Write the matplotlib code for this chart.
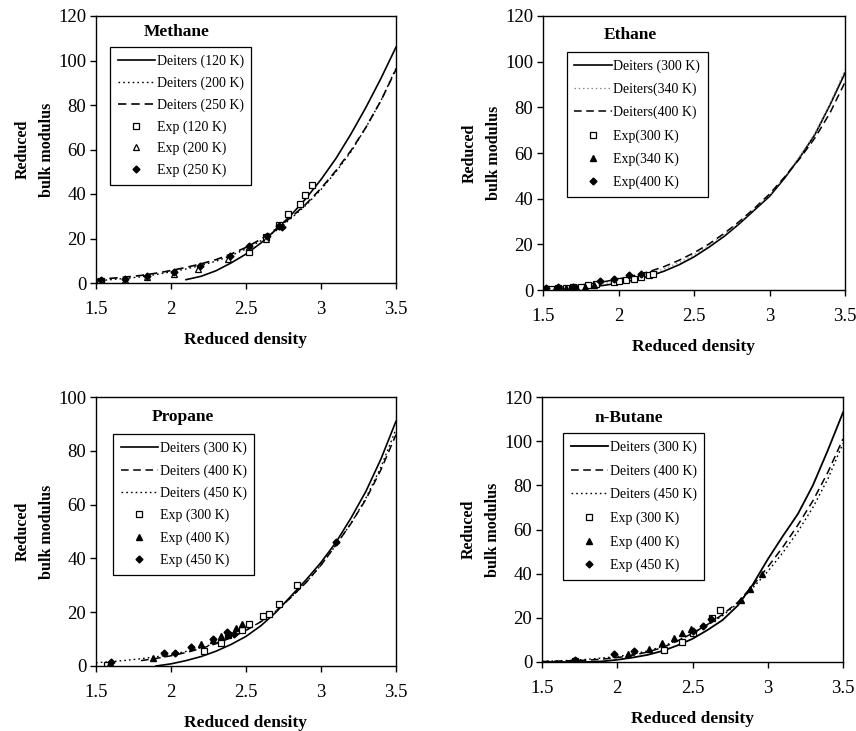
import numpy as np
import matplotlib
matplotlib.use('Agg')
import matplotlib.pyplot as plt

plt.rcParams['font.family'] = ['Liberation Serif', 'DejaVu Serif']

# ---------------- Methane ----------------
me_x1 = [2.1, 2.2, 2.3, 2.4, 2.5, 2.6, 2.7, 2.8, 2.9, 3.0, 3.1, 3.2, 3.3, 3.4, 3.5]
me_y1 = [1.5, 3, 5.5, 9, 13, 18, 24, 30.5, 38, 46.5, 56, 67, 79, 92, 106]
me_x2 = [1.5, 1.6, 1.7, 1.8, 1.9, 2.0, 2.1, 2.2, 2.3, 2.4, 2.5, 2.6, 2.7, 2.8, 2.9, 3.0, 3.1, 3.2, 3.3, 3.4, 3.5]
me_y2 = [1.0, 1.5, 2.1, 2.8, 3.8, 5.0, 6.3, 7.9, 9.8, 12.3, 15.3, 19, 23.5, 29, 35, 42, 50, 59, 70, 82, 96.5]
me_x3 = me_x2
me_y3 = [1.6, 2.1, 2.7, 3.4, 4.4, 5.6, 7.0, 8.6, 10.5, 13, 16, 19.7, 24.2, 29.5, 35.5, 42.5, 50.5, 59.5, 70, 82, 96]
me_ex1 = [1.53, 2.52, 2.63, 2.72, 2.78, 2.86, 2.89, 2.94]
me_ey1 = [1.0, 14, 20.5, 26, 31, 35.5, 39.5, 44]
me_ex2 = [1.52, 1.69, 1.84, 2.02, 2.18, 2.38, 2.52, 2.63, 2.72]
me_ey2 = [0.8, 1.2, 2.5, 4, 6.5, 11, 16, 20, 25.5]
me_ex3 = [1.53, 1.69, 1.84, 2.02, 2.19, 2.39, 2.52, 2.64, 2.72, 2.74]
me_ey3 = [1.3, 2.0, 3.2, 4.8, 7.5, 12, 16.5, 21, 25.5, 25]

# ---------------- Ethane ----------------
et_x = [1.5, 1.6, 1.7, 1.8, 1.9, 2.0, 2.1, 2.2, 2.3, 2.4, 2.5, 2.6, 2.7, 2.8, 2.9, 3.0, 3.1, 3.2, 3.3, 3.4, 3.5]
et_y1 = [0.2, 0.4, 0.8, 1.3, 2, 3, 4.3, 6, 8.2, 11, 14.5, 18.8, 23.5, 29, 35, 41, 49, 58, 68, 81, 95]
et_y2 = [0.5, 0.8, 1.3, 2.0, 2.8, 3.9, 5.3, 7.0, 9.2, 12, 15.4, 19.5, 24.2, 29.5, 35.5, 41.5, 49.5, 58.5, 68.5, 81.5, 96.5]
et_y3 = [0.8, 1.2, 1.8, 2.6, 3.6, 4.8, 6.3, 8, 10.2, 13, 16.3, 20.2, 24.8, 30, 35.8, 42, 49.5, 57.5, 66.5, 77.5, 91]
et_ex1 = [1.52, 1.55, 1.6, 1.65, 1.7, 1.75, 1.8, 1.85, 1.97, 2.0, 2.05, 2.1, 2.15, 2.2, 2.23]
et_ey1 = [0.5, 0.6, 0.8, 1.0, 1.2, 1.5, 2.0, 2.5, 3.5, 4.0, 4.5, 5.0, 5.5, 6.5, 7.0]
et_ex2 = [1.52, 1.58, 1.65, 1.72, 1.78, 1.84]
et_ey2 = [0.3, 0.5, 0.8, 1.1, 1.5, 2.0]
et_ex3 = [1.52, 1.6, 1.7, 1.88, 1.97, 2.07, 2.15]
et_ey3 = [0.8, 1.2, 1.5, 4.0, 5.0, 6.5, 7.0]

# ---------------- Propane ----------------
pr_x1 = [1.9, 2.0, 2.1, 2.2, 2.3, 2.4, 2.5, 2.6, 2.7, 2.8, 2.9, 3.0, 3.1, 3.2, 3.3, 3.4, 3.5]
pr_y1 = [0, 0.8, 2, 3.5, 5.5, 8, 11, 15, 20, 26, 32, 38.5, 46, 55, 65, 77, 91]
pr_x2 = [1.8, 1.9, 2.0, 2.1, 2.2, 2.3, 2.4, 2.5, 2.6, 2.7, 2.8, 2.9, 3.0, 3.1, 3.2, 3.3, 3.4, 3.5]
pr_y2 = [2, 2.8, 3.8, 5, 6.5, 8.3, 10.5, 13.2, 16.5, 20.5, 25.5, 31, 37.5, 45, 53, 62, 73, 86]
pr_x3 = [1.5, 1.6, 1.7, 1.8, 1.9, 2.0, 2.1, 2.2, 2.3, 2.4, 2.5, 2.6, 2.7, 2.8, 2.9, 3.0, 3.1, 3.2, 3.3, 3.4, 3.5]
pr_y3 = [1.2, 1.6, 2.1, 2.7, 3.4, 4.3, 5.4, 6.8, 8.5, 10.7, 13.3, 16.5, 20.5, 25.5, 31, 37.5, 45, 53, 62.5, 74, 88]
pr_ex1 = [1.57, 2.22, 2.33, 2.38, 2.47, 2.52, 2.61, 2.65, 2.72, 2.84]
pr_ey1 = [0.5, 5.5, 8.5, 11.5, 13.5, 15.5, 18.5, 19.5, 23, 30]
pr_ex2 = [1.59, 1.88, 2.2, 2.28, 2.33, 2.38, 2.43, 2.47]
pr_ey2 = [1.0, 3, 8, 9.5, 11, 12, 14, 15.5]
pr_ex3 = [1.6, 1.95, 2.03, 2.13, 2.28, 2.37, 2.42, 3.1]
pr_ey3 = [1.5, 5, 4.8, 7, 10, 12.5, 12, 46]

# ---------------- n-Butane ----------------
bu_x = [1.5, 1.6, 1.7, 1.8, 1.9, 2.0, 2.1, 2.2, 2.3, 2.4, 2.5, 2.6, 2.7, 2.8, 2.9, 3.0, 3.1, 3.2, 3.3, 3.4, 3.5]
bu_y1 = [0, 0, 0, 0, 0.3, 1, 2, 3.2, 5, 7.5, 10.5, 14.5, 19, 25.5, 35, 46.5, 57, 67, 80, 96, 113]
bu_y2 = [0.2, 0.4, 0.6, 0.8, 1.3, 2, 3, 4.5, 6.5, 9.5, 13, 17, 21.5, 27, 34.5, 43, 52, 62, 73, 86, 101]
bu_y3 = [0.3, 0.5, 0.8, 1.2, 1.8, 2.5, 3.5, 5, 7, 9.8, 13, 16.8, 21, 26.5, 33.5, 41, 49.5, 59, 70, 83, 99]
bu_ex1 = [1.72, 2.31, 2.43, 2.5, 2.63, 2.68]
bu_ey1 = [0.5, 5.5, 9, 13, 20, 23.5]
bu_ex2 = [1.72, 2.07, 2.21, 2.3, 2.38, 2.43, 2.49, 2.82, 2.88, 2.96]
bu_ey2 = [0.8, 3.5, 6, 8.5, 11, 13, 15, 28, 33, 40]
bu_ex3 = [1.72, 1.98, 2.11, 2.5, 2.57, 2.62]
bu_ey3 = [1, 3.5, 5, 14, 16.5, 19.5]

W, H = 856, 731
fig = plt.figure(figsize=(W / 100, H / 100), dpi=100)


def ax_at(l, r, t, b):
    return fig.add_axes([l / W, 1 - b / H, (r - l) / W, (b - t) / H])


def style(ax, ymax, title, tx, ty, leg_anchor, lsp):
    ax.set_xlim(1.5, 3.5)
    ax.set_ylim(0, ymax)
    ax.set_xticks([1.5, 2, 2.5, 3, 3.5])
    ax.set_xticklabels(['1.5', '2', '2.5', '3', '3.5'])
    ax.set_yticks(np.arange(0, ymax + 1, 20))
    ax.tick_params(labelsize=13.5, direction='out', length=4, width=1)
    ax.tick_params(axis='x', pad=9)
    ax.tick_params(axis='y', pad=3)
    for s in ax.spines.values():
        s.set_linewidth(1.0)
    ax.set_xlabel('Reduced density', fontsize=12.5, fontweight='bold', labelpad=10)
    ax.set_ylabel('Reduced\nbulk modulus', fontsize=11.5, fontweight='bold', labelpad=2,
                  linespacing=1.75)
    ax.text(tx, ty, title, transform=ax.transAxes, fontsize=12.5, fontweight='bold',
            ha='center', va='center')
    leg = ax.legend(loc='upper left', bbox_to_anchor=leg_anchor, fontsize=10,
                    handlelength=2.7, handletextpad=0.1, labelspacing=lsp,
                    borderpad=0.55, borderaxespad=0, fancybox=False, edgecolor='black',
                    framealpha=1, markerfirst=True)
    leg.get_frame().set_linewidth(0.9)


ls_dot = (0, (1.2, 2.2))
ls_dash = (0, (5, 3))

# Methane
ax = ax_at(96, 396, 16, 283)
ax.plot(me_x1, me_y1, color='black', lw=1.2, label='Deiters (120 K)')
ax.plot(me_x2, me_y2, color='black', lw=1.0, ls=ls_dot, label='Deiters (200 K)')
ax.plot(me_x3, me_y3, color='black', lw=1.2, ls=ls_dash, label='Deiters (250 K)')
ax.plot(me_ex1, me_ey1, 's', ms=4, mfc='white', mec='black', mew=0.9, ls='none', label='Exp (120 K)')
ax.plot(me_ex2, me_ey2, '^', ms=4.5, mfc='white', mec='black', mew=0.9, ls='none', label='Exp (200 K)')
ax.plot(me_ex3, me_ey3, 'D', ms=3.5, mfc='black', mec='black', ls='none', label='Exp (250 K)')
style(ax, 120, 'Methane', 0.27, 0.94, (0.047, 0.884), 0.60)

# Ethane
ax = ax_at(543, 845, 16, 290)
ax.plot(et_x, et_y1, color='black', lw=1.2, label='Deiters (300 K)')
ax.plot(et_x, et_y2, color='#888888', lw=0.9, ls=ls_dot, label='Deiters(340 K)')
ax.plot(et_x, et_y3, color='black', lw=1.1, ls=ls_dash, label='Deiters(400 K)')
ax.plot(et_ex1, et_ey1, 's', ms=4, mfc='white', mec='black', mew=0.9, ls='none', label='Exp(300 K)')
ax.plot(et_ex2, et_ey2, '^', ms=4.5, mfc='black', mec='black', ls='none', label='Exp(340 K)')
ax.plot(et_ex3, et_ey3, 'D', ms=3.5, mfc='black', mec='black', ls='none', label='Exp(400 K)')
style(ax, 120, 'Ethane', 0.29, 0.93, (0.079, 0.869), 0.70)

# Propane
ax = ax_at(96, 396, 397, 666)
ax.plot(pr_x1, pr_y1, color='black', lw=1.2, label='Deiters (300 K)')
ax.plot(pr_x2, pr_y2, color='black', lw=1.1, ls=ls_dash, label='Deiters (400 K)')
ax.plot(pr_x3, pr_y3, color='black', lw=1.0, ls=ls_dot, label='Deiters (450 K)')
ax.plot(pr_ex1, pr_ey1, 's', ms=4, mfc='white', mec='black', mew=0.9, ls='none', label='Exp (300 K)')
ax.plot(pr_ex2, pr_ey2, '^', ms=4.5, mfc='black', mec='black', ls='none', label='Exp (400 K)')
ax.plot(pr_ex3, pr_ey3, 'D', ms=3.5, mfc='black', mec='black', ls='none', label='Exp (450 K)')
style(ax, 100, 'Propane', 0.29, 0.926, (0.057, 0.862), 0.64)

# n-Butane
ax = ax_at(542, 843, 397, 662)
ax.plot(bu_x, bu_y1, color='black', lw=1.3, label='Deiters (300 K)')
ax.plot(bu_x, bu_y2, color='black', lw=1.1, ls=ls_dash, label='Deiters (400 K)')
ax.plot(bu_x, bu_y3, color='black', lw=1.0, ls=ls_dot, label='Deiters (450 K)')
ax.plot(bu_ex1, bu_ey1, 's', ms=4, mfc='white', mec='black', mew=0.9, ls='none', label='Exp (300 K)')
ax.plot(bu_ex2, bu_ey2, '^', ms=4.5, mfc='black', mec='black', ls='none', label='Exp (400 K)')
ax.plot(bu_ex3, bu_ey3, 'D', ms=3.5, mfc='black', mec='black', ls='none', label='Exp (450 K)')
style(ax, 120, 'n-Butane', 0.29, 0.92, (0.07, 0.864), 0.73)

fig.savefig('out.png', dpi=100)
